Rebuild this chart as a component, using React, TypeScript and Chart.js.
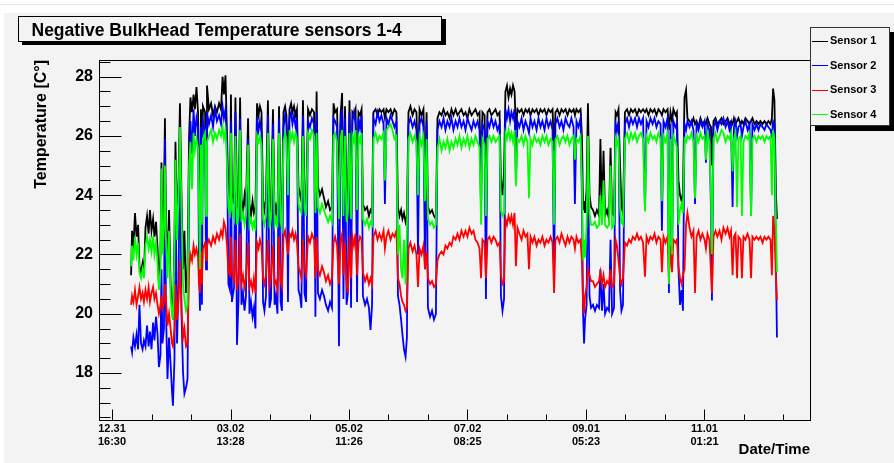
import { useEffect, useRef } from "react";
import { Chart, registerables } from "chart.js";

Chart.register(...registerables);

// Time in days since 12.31 16:30
const times = [
  9.8, 10.3, 11.0, 11.8, 12.6, 13.4, 14.1, 14.9, 15.7, 16.4, 17.2, 18.0, 18.8, 19.5, 20.3, 21.1, 21.8, 22.6, 23.4,
  24.1, 24.9, 25.4, 25.9, 26.7, 27.2, 27.7, 28.5, 29.3, 30.1, 30.8, 31.3, 32.1, 32.6, 33.4, 34.2, 34.9, 35.7, 36.5, 37.2, 38.0, 38.8, 39.6, 40.3, 41.1, 41.9, 42.6, 43.4, 44.2, 44.7, 45.2, 45.7,
  46.2, 46.7, 47.8, 48.3, 48.8, 49.8, 50.9, 51.9, 52.9, 53.9, 55.0, 56.0, 56.8, 57.5, 58.3, 59.1, 59.8,
  60.6, 61.1, 61.6, 62.7, 63.4, 64.2, 65.0, 65.8, 66.5, 67.3, 68.1, 68.8, 69.9, 70.6, 71.4, 72.2, 72.9, 73.7, 74.5, 75.3, 76.0, 76.8, 77.6,
  78.3, 79.1, 80.1, 80.9, 81.7, 82.7, 83.5, 84.2, 85.0, 85.8, 86.6, 87.3, 88.1, 88.9, 89.6, 90.4, 91.2, 92.0, 92.7, 93.5, 94.3, 95.0,
  95.8, 96.6, 97.3, 98.1, 98.9, 99.7, 100.7, 101.7, 102.7, 103.8, 104.5, 105.1, 105.8, 106.8, 107.9, 108.9, 109.9, 111.0, 112.0, 113.0, 113.8, 114.6, 115.6, 116.6, 117.4, 118.2, 118.9,
  119.7, 120.5, 121.2, 122.0, 122.8, 123.5, 124.3, 125.1, 125.9, 126.6, 127.4, 128.2, 128.9, 130.0, 131.0, 132.0, 132.8, 133.6,
  134.3, 135.4, 136.4, 137.4, 138.4, 139.5, 140.2, 141.0, 142.0, 143.1, 144.1, 145.1, 146.1,
  146.9, 147.7, 148.5, 149.2, 150.0, 150.8, 151.5, 152.3, 153.3,
  154.4, 155.4, 156.4, 157.2, 158.0, 159.0, 160.0, 160.8, 161.6,
  162.3, 163.4, 164.4, 165.4, 166.4,
  167.2, 168.2, 169.3, 170.3, 171.3, 172.3, 173.4, 174.4, 175.4, 176.5, 177.5, 178.5, 179.5, 180.6, 181.6, 182.6, 183.6, 184.7, 185.7, 186.7, 187.8, 188.8,
  189.6, 190.3, 191.4, 192.1, 192.9, 193.9, 194.9, 196.0, 197.0, 198.0, 199.1,
  199.8, 200.6, 201.4,
  202.1, 202.9, 203.7, 204.5, 205.2, 206.0, 206.8, 207.5, 208.3,
  209.3, 210.4, 211.4, 212.4, 213.4, 214.2, 215.0, 216.0, 217.0, 218.1, 219.1, 220.1, 221.1, 222.2, 223.2, 224.2, 225.3, 226.3, 227.1, 227.8,
  228.8, 229.9, 230.9, 231.9, 233.0, 234.0, 235.0, 236.0, 237.1, 237.8, 238.6, 239.6, 240.7,
  241.4, 242.0, 242.5, 243.0, 243.8, 244.5, 245.3, 246.1,
  247.1, 248.1, 249.1, 250.2, 250.9, 251.7, 252.5, 253.3, 254.3, 255.3, 256.1, 256.9, 257.9,
  258.7, 259.4, 260.2, 261.0, 261.7, 262.5,
  263.5, 264.6, 265.6, 266.6, 267.6, 268.7, 269.7, 270.7, 271.7, 272.8, 273.8, 274.6, 275.6, 276.6, 277.7, 278.7, 279.7, 280.7, 281.8, 282.5, 283.3, 284.3, 285.4, 286.1, 286.9, 287.7, 288.4, 289.5, 290.2,
  291.0, 291.8, 292.6, 293.3, 294.1, 294.9, 295.6,
  296.7, 297.7, 298.7, 299.5, 300.3, 301.3, 302.3, 303.3, 304.4, 305.1, 305.9, 306.9, 307.7, 308.2, 309.0, 310.0, 311.0, 312.1, 313.1, 314.1, 315.2, 316.2, 317.2, 318.0, 318.8, 319.5, 320.3, 321.1, 321.8, 322.9, 323.6, 324.4, 325.4, 326.5, 327.5, 328.3, 329.0, 330.1, 331.1, 332.1, 333.1, 334.2, 335.2, 336.2, 337.2, 338.3, 339.0, 339.6, 340.3, 341.1, 341.6,
];

const sensor1 = [
  21.3, 22.8, 22.2, 23.4, 22.6, 23.0, 21.6, 21.4, 21.7, 21.3, 22.9, 23.3, 22.7, 23.5, 22.8, 23.2, 22.6, 23.1, 22.2,
  21.0, 22.0, 25.1, 22.5, 24.0, 26.6, 23.0, 21.8, 23.5, 21.0, 20.2, 19.8, 22.5, 25.8, 23.0, 24.5, 27.1, 24.0, 21.5, 22.8, 20.7, 21.5, 26.0, 27.3, 26.8, 27.4, 26.9, 27.65, 26.8, 24.5, 22.5, 26.9,
  24.0, 27.0, 26.8, 24.0, 27.7, 26.9, 27.1, 26.7, 27.0, 26.8, 27.1, 26.9, 28.0, 27.4, 28.05, 26.0, 24.0,
  23.9, 27.4, 24.1, 23.7, 27.3, 23.8, 23.5, 27.3, 23.9, 23.4, 24.0, 23.6, 26.6, 23.7, 23.3, 23.8, 23.4, 23.6, 27.1, 26.7, 27.0, 26.8, 23.8,
  23.5, 23.9, 27.2, 23.4, 23.7, 26.9, 23.3, 23.6, 23.2, 27.0, 23.5, 23.3, 26.8, 27.0, 26.7, 25.0, 26.9, 27.1, 26.8, 27.0, 26.7, 26.9,
  24.3, 24.0, 23.8, 27.2, 23.9, 23.6, 26.9, 26.7, 26.9, 26.8, 24.0, 27.5, 24.3, 24.0, 24.2, 23.9, 23.6, 23.8, 23.5, 23.6, 27.1, 26.8, 26.9, 24.0, 26.7, 27.45, 23.8,
  27.0, 23.6, 23.9, 27.2, 23.7, 26.8, 26.7, 26.9, 24.0, 26.8, 26.7, 26.9, 23.7, 23.5, 23.6, 23.3, 23.5, 23.4,
  26.8, 26.9, 26.7, 26.9, 26.8, 26.9, 26.6, 26.9, 26.8, 26.9, 26.7, 26.9, 26.8,
  23.6, 23.3, 23.5, 23.2, 23.4, 23.1, 23.3, 26.8, 27.0,
  26.7, 26.9, 26.8, 25.0, 26.9, 26.7, 26.9, 24.5, 26.8,
  23.6, 23.4, 23.5, 23.3, 23.2,
  26.6, 26.8, 26.7, 26.9, 26.7, 26.8, 26.6, 26.9, 26.7, 26.9, 26.7, 26.8, 26.9, 26.7, 26.8, 26.6, 26.9, 26.7, 26.8, 26.9, 26.7, 26.8,
  24.5, 26.8, 26.7, 24.0, 26.8, 26.9, 26.7, 26.8, 26.9, 26.7, 26.8,
  24.5, 24.0, 24.8,
  27.5, 27.7, 27.3, 27.6, 27.4, 27.7, 27.5, 26.2, 26.9,
  26.8, 26.9, 26.7, 26.9, 26.8, 26.9, 26.7, 26.9, 26.8, 26.9, 26.7, 26.9, 26.8, 26.9, 26.7, 26.9, 26.8, 26.9, 25.5, 26.8,
  26.9, 26.7, 26.9, 26.8, 26.9, 26.7, 26.9, 26.8, 26.9, 26.7, 26.9, 26.8, 26.9,
  26.0, 23.5, 23.8, 23.4, 24.2, 27.1, 24.0, 23.6,
  23.5, 23.3, 23.5, 23.3, 25.9, 23.4, 25.5, 23.3, 23.5, 23.2, 25.6, 23.4, 23.3,
  26.8, 26.7, 26.9, 25.0, 23.6, 23.4,
  26.8, 26.9, 26.7, 26.9, 26.8, 26.9, 26.7, 26.9, 26.8, 26.9, 26.8, 26.9, 26.7, 26.9, 26.8, 26.9, 26.7, 26.9, 26.8, 26.7, 26.9, 26.8, 26.9, 26.2, 26.8, 26.5, 26.9, 26.7, 26.8,
  24.5, 24.0, 23.8, 24.1, 27.3, 27.55, 26.6,
  26.5, 26.4, 26.6, 26.4, 26.5, 26.3, 26.6, 26.4, 26.5, 26.4, 26.6, 26.4, 26.3, 25.0, 26.5, 26.6, 26.4, 26.5, 26.6, 26.4, 26.5, 26.6, 26.4, 26.5, 26.4, 26.6, 26.4, 26.5, 26.6, 26.4, 26.5, 26.4, 26.6, 26.5, 26.4, 26.5, 26.6, 26.4, 26.5, 26.4, 26.5, 26.4, 26.5, 26.4, 26.5, 26.4, 26.6, 27.6, 27.2, 24.0, 23.2,
];

const sensor2 = [
  18.9, 18.7, 19.2, 18.9, 19.3, 18.8, 20.3, 19.0, 18.8, 19.1, 18.9, 19.6, 18.9, 19.4, 18.8, 19.7, 19.1, 19.9, 19.3,
  18.2, 18.6, 21.5, 19.0, 19.5, 25.9, 20.2, 17.8, 19.2, 18.3, 17.4, 16.9, 18.5, 24.5, 19.0, 21.0, 26.2, 20.0, 18.0, 17.3, 17.5, 17.8, 24.0, 26.5, 25.4, 26.9, 26.0, 26.6, 26.3, 21.5, 20.1, 26.3,
  20.3, 26.5, 26.2, 21.5, 26.8, 26.4, 26.7, 26.3, 26.9, 26.5, 26.7, 26.4, 27.0, 26.6, 26.9, 25.5, 21.0,
  20.8, 26.5, 20.4, 20.9, 26.8, 18.95, 20.5, 26.6, 20.3, 20.7, 20.1, 20.6, 25.9, 20.0, 20.4, 19.9, 20.2, 19.5, 26.6, 26.2, 26.5, 26.1, 20.4,
  20.1, 20.6, 26.7, 20.2, 20.5, 26.4, 20.3, 20.6, 20.0, 26.6, 20.4, 20.1, 26.3, 26.7, 26.4, 20.4, 26.6, 26.8, 26.4, 26.7, 26.3, 26.6,
  20.8, 20.6, 20.2, 26.7, 20.7, 20.4, 26.5, 26.3, 26.6, 26.4, 19.9, 26.8, 20.7, 20.5, 20.8, 20.6, 20.3, 20.1, 20.4, 20.2, 26.6, 26.5, 26.3, 18.9, 26.4, 26.9, 20.5,
  26.6, 20.3, 20.7, 26.8, 20.2, 26.5, 26.8, 26.4, 20.4, 26.6, 26.3, 26.7, 20.6, 20.3, 20.5, 20.2, 19.45, 20.3,
  26.6, 26.4, 26.8, 26.5, 26.7, 26.4, 23.7, 26.6, 26.4, 26.7, 26.5, 26.3, 26.5,
  20.6, 20.3, 19.8, 19.3, 18.8, 18.55, 19.2, 26.4, 26.6,
  26.3, 26.5, 26.2, 22.0, 26.4, 26.6, 26.3, 21.5, 26.5,
  20.2, 19.9, 20.1, 19.8, 20.0,
  26.2, 26.5, 26.3, 26.6, 26.2, 26.5, 26.3, 26.6, 26.2, 26.5, 26.3, 26.6, 26.3, 26.5, 26.2, 26.6, 26.4, 26.2, 26.5, 26.3, 26.5, 26.2,
  23.5, 26.4, 26.2, 20.5, 26.5, 26.3, 26.6, 26.3, 26.5, 26.2, 26.4,
  20.6, 20.1, 20.5,
  26.9, 26.6, 26.9, 26.5, 26.8, 26.6, 26.9, 24.5, 26.5,
  26.3, 26.6, 26.2, 26.5, 26.3, 26.1, 26.6, 26.3, 26.5, 26.2, 26.6, 26.3, 26.5, 26.2, 26.6, 26.3, 26.5, 26.2, 21.0, 26.4,
  26.6, 26.3, 26.5, 26.2, 26.6, 26.4, 26.3, 26.6, 26.3, 23.7, 26.5, 26.3, 26.6,
  24.0, 20.0, 19.0, 19.8, 20.3, 25.5, 20.6, 20.2,
  20.3, 20.1, 20.3, 20.2, 21.5, 20.1, 21.0, 20.0, 20.2, 20.1, 22.5, 20.0, 20.2,
  26.4, 26.2, 26.5, 20.8, 20.1, 20.3,
  26.4, 26.6, 26.3, 26.6, 26.4, 26.6, 26.3, 26.6, 26.4, 26.6, 23.5, 26.5, 26.3, 26.6, 26.4, 26.6, 26.3, 26.5, 26.4, 22.8, 26.5, 26.3, 26.6, 20.7, 26.4, 21.5, 26.5, 26.3, 26.4,
  21.5, 20.3, 20.8, 20.1, 26.4, 26.2, 26.5,
  26.3, 26.5, 26.2, 23.7, 26.4, 26.2, 26.5, 26.3, 26.5, 25.1, 26.4, 26.2, 23.5, 20.45, 26.3, 26.5, 26.2, 26.5, 26.4, 26.6, 26.3, 26.5, 26.2, 26.4, 23.6, 26.3, 26.5, 26.0, 26.3, 26.4, 26.0, 26.3, 26.5, 26.2, 26.4, 23.3, 26.4, 26.2, 26.4, 26.2, 26.4, 26.3, 26.2, 26.4, 26.3, 26.2, 26.0, 26.5, 26.4, 21.5, 19.2,
];

const sensor3 = [
  20.3, 20.6, 20.4, 20.8, 20.3, 20.6, 20.9, 20.5, 20.7, 20.4, 20.8, 20.5, 20.9, 20.4, 20.7, 20.9, 20.5, 20.7, 20.3,
  20.0, 20.3, 20.6, 20.2, 20.4, 21.0, 20.5, 19.6, 20.0, 19.5, 19.0, 18.9, 19.5, 21.0, 19.8, 20.5, 21.8, 20.2, 19.2, 19.5, 18.9, 19.0, 21.5, 22.0, 21.8, 22.3, 22.0, 22.2, 21.9, 21.0, 20.7, 22.1,
  21.0, 22.2, 22.4, 21.8, 22.3, 22.5, 22.3, 22.6, 22.4, 22.7, 22.5, 22.8, 22.6, 23.1, 22.9, 22.3, 21.4,
  21.3, 22.6, 21.4, 21.1, 22.5, 20.8, 21.2, 22.7, 21.0, 21.3, 20.9, 21.2, 22.4, 20.9, 21.1, 20.8, 21.2, 20.7, 22.4, 22.2, 22.5, 22.3, 21.2,
  21.0, 21.3, 22.5, 20.9, 21.2, 22.3, 21.0, 21.1, 20.8, 22.6, 21.1, 20.9, 22.6, 22.8, 22.5, 22.0, 22.7, 22.6, 22.8, 22.5, 22.7, 22.4,
  21.6, 21.4, 21.2, 22.5, 21.5, 21.3, 22.6, 22.4, 22.7, 22.5, 21.2, 22.6, 21.5, 21.3, 21.6, 21.4, 21.1, 21.3, 21.0, 21.2, 22.4, 22.6, 22.3, 21.0, 22.5, 22.7, 21.3,
  22.4, 21.0, 20.7, 22.6, 21.2, 22.6, 22.3, 22.7, 21.3, 22.4, 22.6, 22.5, 21.4, 21.1, 21.3, 21.0, 21.2, 21.0,
  22.6, 22.8, 22.5, 22.7, 22.5, 22.8, 22.2, 22.6, 22.8, 22.5, 22.7, 22.6, 22.8,
  21.2, 21.0, 20.6, 20.4, 20.3, 20.1, 20.2, 22.2, 22.4,
  22.1, 22.3, 22.0, 20.9, 22.2, 22.0, 22.3, 21.5, 22.1,
  21.2, 21.0, 21.1, 20.9, 21.0,
  21.8, 22.0, 22.1, 22.0, 22.3, 22.2, 22.4, 22.3, 22.6, 22.5, 22.7, 22.5, 22.8, 22.6, 22.8, 22.6, 22.9, 22.7, 22.8, 22.5, 22.4, 22.2,
  21.2, 22.5, 22.4, 21.2, 22.5, 22.6, 22.4, 22.6, 22.5, 22.3, 22.4,
  21.3, 21.0, 21.1,
  23.2, 23.0, 23.3, 23.1, 23.3, 23.0, 23.4, 21.6, 22.9,
  22.7, 22.5, 22.8, 22.6, 22.7, 21.5, 22.6, 22.4, 22.6, 22.3, 22.5, 22.4, 22.6, 22.3, 22.5, 22.4, 22.6, 22.4, 20.7, 22.5,
  22.6, 22.4, 22.7, 22.5, 22.3, 22.6, 22.4, 22.6, 22.5, 22.2, 22.6, 22.4, 22.5,
  21.8, 20.3, 20.0, 20.6, 20.9, 21.5, 21.3, 21.1,
  21.1, 20.9, 21.0, 21.1, 21.4, 21.0, 21.3, 20.9, 21.1, 21.0, 21.5, 20.9, 21.0,
  22.5, 22.3, 21.8, 21.2, 21.0, 21.2,
  22.4, 22.3, 22.5, 22.4, 22.6, 22.5, 22.7, 22.5, 22.6, 22.4, 21.25, 22.6, 22.4, 22.6, 22.5, 22.7, 22.4, 22.6, 22.5, 21.4, 22.6, 22.4, 22.6, 21.2, 22.3, 21.4, 22.5, 22.4, 22.5,
  21.6, 21.2, 21.0, 21.3, 21.5, 23.0, 23.4,
  22.9, 22.6, 22.8, 20.7, 22.6, 22.8, 22.5, 22.7, 22.5, 22.2, 22.7, 22.5, 21.4, 20.7, 22.6, 22.8, 22.6, 22.8, 22.5, 22.9, 22.7, 22.9, 22.6, 22.8, 21.3, 22.6, 22.7, 21.2, 22.6, 22.5, 21.2, 22.6, 22.5, 22.7, 22.5, 21.2, 22.6, 22.5, 22.6, 22.5, 22.6, 22.4, 22.6, 22.5, 22.6, 22.5, 21.3, 23.3, 22.8, 21.2, 20.45,
];

const sensor4 = [
  21.6, 22.3, 21.8, 22.6, 22.0, 22.4, 21.4, 21.2, 21.5, 21.2, 22.3, 22.6, 22.2, 22.5, 22.1, 22.6, 22.0, 22.4, 21.7,
  20.8, 21.5, 24.9, 22.0, 23.0, 25.0, 22.5, 21.2, 22.8, 20.6, 20.0, 19.8, 22.0, 25.2, 22.5, 24.0, 26.3, 23.5, 21.0, 20.5, 20.1, 20.3, 25.0, 25.8, 24.2, 26.1, 25.5, 25.9, 25.6, 23.5, 21.5, 25.7,
  23.0, 25.9, 26.1, 23.3, 25.8, 26.0, 26.2, 25.8, 26.1, 25.9, 26.2, 26.0, 26.3, 25.9, 26.2, 25.0, 23.6,
  23.4, 26.1, 23.5, 23.2, 26.0, 23.0, 23.3, 26.2, 23.1, 23.4, 23.0, 23.3, 25.7, 23.0, 23.2, 22.9, 23.1, 22.8, 26.0, 25.8, 26.0, 25.7, 23.2,
  23.0, 23.3, 26.1, 22.9, 23.2, 25.9, 23.0, 23.2, 22.9, 26.1, 23.1, 22.9, 25.8, 26.1, 25.9, 24.0, 26.2, 25.9, 26.1, 25.8, 26.1, 25.9,
  23.7, 23.5, 23.4, 26.0, 23.6, 23.3, 26.1, 25.9, 26.2, 26.0, 23.4, 26.1, 23.6, 23.4, 23.7, 23.5, 23.3, 23.1, 23.3, 23.1, 26.0, 26.1, 25.8, 23.2, 25.9, 26.2, 23.3,
  26.0, 23.1, 23.4, 26.1, 23.2, 26.0, 25.8, 26.2, 23.5, 26.0, 25.8, 26.1, 23.2, 23.0, 23.2, 22.9, 23.1, 23.0,
  25.9, 26.1, 25.8, 26.0, 25.9, 26.1, 24.5, 26.2, 26.3, 26.4, 26.2, 25.9, 26.0,
  22.0, 23.0, 21.5, 21.2, 22.5, 21.0, 22.8, 25.9, 26.1,
  25.8, 26.0, 25.8, 24.0, 26.0, 25.7, 26.0, 23.8, 25.9,
  23.2, 23.0, 23.1, 22.9, 23.0,
  25.6, 25.9, 25.5, 25.8, 25.6, 25.9, 25.5, 25.8, 25.6, 25.9, 25.7, 26.0, 25.6, 25.9, 25.7, 26.0, 25.6, 25.9, 25.7, 26.0, 25.8, 25.6,
  23.0, 25.9, 25.7, 23.3, 25.9, 26.0, 25.8, 26.0, 25.8, 25.9, 26.0,
  23.5, 23.3, 23.4,
  26.1, 25.9, 26.2, 25.9, 26.1, 25.8, 26.2, 24.3, 25.9,
  25.8, 26.0, 25.7, 26.0, 25.8, 23.9, 25.9, 25.7, 26.0, 25.8, 25.9, 25.7, 26.0, 25.8, 26.0, 25.7, 25.9, 25.8, 23.0, 25.9,
  26.0, 25.7, 25.9, 26.0, 25.8, 26.0, 25.7, 25.9, 26.0, 25.2, 25.9, 25.8, 26.0,
  24.5, 21.8, 22.5, 21.9, 23.0, 26.0, 23.4, 23.0,
  23.0, 23.1, 22.9, 23.0, 24.0, 23.0, 24.5, 23.0, 22.9, 23.0, 25.0, 22.9, 23.0,
  25.9, 25.7, 25.9, 23.5, 23.1, 23.0,
  25.9, 26.1, 25.8, 26.1, 25.9, 26.1, 25.8, 26.0, 26.1, 25.9, 23.45, 26.0, 25.8, 26.1, 25.9, 26.0, 25.8, 26.1, 25.9, 23.8, 26.0, 25.8, 26.1, 21.0, 25.9, 22.0, 26.0, 25.8, 25.6,
  23.0, 23.5, 23.7, 23.4, 25.9, 25.8, 26.0,
  25.9, 26.1, 25.8, 23.9, 26.0, 25.8, 26.1, 25.9, 26.0, 25.2, 26.1, 25.8, 24.0, 22.0, 25.9, 26.1, 25.8, 26.0, 26.2, 26.1, 25.8, 26.0, 25.9, 26.1, 24.8, 25.9, 26.1, 23.6, 25.9, 26.0, 23.3, 25.8, 26.0, 25.9, 26.1, 23.3, 25.9, 26.0, 25.8, 26.0, 25.9, 26.0, 25.8, 26.0, 25.9, 26.0, 24.0, 26.2, 25.9, 23.0, 21.4,
];

const seriesNames = ["Sensor 1", "Sensor 2", "Sensor 3", "Sensor 4"];
const seriesColors = ["#000000", "#0000ff", "#ff0000", "#00ff00"];

const xTickDays = [0, 60.874, 121.748, 182.622, 243.496, 304.37];
const xTickLabels = [
  ["12.31", "16:30"],
  ["03.02", "13:28"],
  ["05.02", "11:26"],
  ["07.02", "08:25"],
  ["09.01", "05:23"],
  ["11.01", "01:21"],
];
const yTickValues = [18, 20, 22, 24, 26, 28];

const titleText = "Negative BulkHead Temperature sensors 1-4";
const FONT = "'Liberation Sans', Arial, Helvetica, sans-serif";
const CANVAS_BG = "#f3f3f3";
const X_STEP = 60.874;

const rootDecor = {
  id: "rootDecor",
  beforeDraw(chart: any) {
    const { ctx, width, height } = chart;
    ctx.save();
    ctx.fillStyle = "#ffffff";
    ctx.fillRect(0, 0, width, height);
    ctx.fillStyle = CANVAS_BG;
    ctx.fillRect(4, 13, width - 4, height - 13);
    ctx.strokeStyle = "#e4e4e4";
    ctx.lineWidth = 1;
    ctx.beginPath();
    ctx.moveTo(0, 4.5);
    ctx.lineTo(width, 4.5);
    ctx.stroke();
    ctx.restore();
  },
  afterDraw(chart: any) {
    const { ctx, chartArea: a, scales } = chart;
    const xs = scales.x;
    const ys = scales.y;
    const L = Math.round(a.left) + 0.5;
    const R = Math.round(a.right) + 0.5;
    const T = Math.round(a.top) + 0.5;
    const B = Math.round(a.bottom) + 0.5;
    ctx.save();
    ctx.strokeStyle = "#000000";
    ctx.lineWidth = 1;
    ctx.strokeRect(L, T, R - L, B - T);

    // y ticks (inside frame)
    ctx.beginPath();
    for (let k = 33; k <= 57; k++) {
      const v = k / 2;
      if (v < ys.min || v > ys.max) continue;
      const py = Math.round(ys.getPixelForValue(v)) + 0.5;
      const major = k % 4 === 0;
      ctx.moveTo(L, py);
      ctx.lineTo(L + (major ? 22 : 11), py);
    }
    // x ticks (inside frame)
    xTickDays.forEach((d) => {
      for (let k = 0; k < 3; k++) {
        const v = d + (k * X_STEP) / 3;
        if (v < xs.min || v > xs.max) continue;
        const px = Math.round(xs.getPixelForValue(v)) + 0.5;
        ctx.moveTo(px, B);
        ctx.lineTo(px, B - (k === 0 ? 11 : 6));
      }
    });
    ctx.stroke();

    // title box
    ctx.fillStyle = "#000000";
    ctx.fillRect(22, 19, 424, 26);
    ctx.fillStyle = CANVAS_BG;
    ctx.fillRect(18, 16, 424, 26);
    ctx.strokeStyle = "#000000";
    ctx.strokeRect(18.5, 16.5, 423, 25);
    ctx.fillStyle = "#000000";
    ctx.font = `bold 17.5px ${FONT}`;
    ctx.textBaseline = "alphabetic";
    ctx.textAlign = "left";
    ctx.fillText(titleText, 31.5, 35.5);

    // legend box
    ctx.fillStyle = "#000000";
    ctx.fillRect(815, 32, 80, 99);
    ctx.fillStyle = CANVAS_BG;
    ctx.fillRect(810, 27, 80, 99);
    ctx.strokeStyle = "#333333";
    ctx.strokeRect(810.5, 27.5, 79, 98);
    ctx.font = `bold 11px ${FONT}`;
    chart.data.datasets.forEach((ds: any, i: number) => {
      const ly = Math.round(40.5 + 24.5 * i) + 0.5;
      ctx.strokeStyle = ds.borderColor;
      ctx.lineWidth = 1;
      ctx.beginPath();
      ctx.moveTo(812, ly);
      ctx.lineTo(828, ly);
      ctx.stroke();
      ctx.fillStyle = "#000000";
      ctx.fillText(ds.label, 830, 44 + 24.5 * i);
    });
    ctx.restore();
  },
};

export default function App() {
  const ref = useRef<HTMLCanvasElement>(null);
  useEffect(() => {
    const series = [sensor1, sensor2, sensor3, sensor4];
    const chart = new Chart(ref.current as HTMLCanvasElement, {
      type: "line",
      data: {
        datasets: series.map((vals, i) => ({
          label: seriesNames[i],
          data: vals.map((y, k) => ({ x: times[k], y })),
          borderColor: seriesColors[i],
          backgroundColor: seriesColors[i],
          borderWidth: 1.8,
          pointRadius: 0,
          tension: 0,
          fill: false,
          order: 4 - i,
        })),
      },
      options: {
        animation: false,
        responsive: false,
        devicePixelRatio: 1,
        events: [],
        layout: { padding: { top: 60, right: 84, bottom: 0, left: 0 } },
        plugins: {
          legend: { display: false },
          title: { display: false },
          tooltip: { enabled: false },
        },
        scales: {
          x: {
            type: "linear",
            min: -6.68,
            max: 358.57,
            afterBuildTicks: (s: any) => {
              s.ticks = xTickDays.map((v) => ({ value: v }));
            },
            afterFit: (s: any) => {
              s.height = 43;
            },
            grid: { display: false, drawTicks: false },
            border: { display: false },
            ticks: {
              autoSkip: false,
              maxRotation: 0,
              padding: 2,
              color: "#000000",
              font: { family: FONT, size: 11, weight: "bold", lineHeight: 1.23 },
              callback: (_v: any, i: number) => xTickLabels[i],
            },
            title: {
              display: true,
              text: "Date/Time",
              align: "end",
              color: "#000000",
              font: { family: FONT, size: 15, weight: "bold" },
              padding: { top: 0, bottom: 4 },
            },
          },
          y: {
            type: "linear",
            min: 16.414,
            max: 28.563,
            afterBuildTicks: (s: any) => {
              s.ticks = yTickValues.map((v) => ({ value: v }));
            },
            afterFit: (s: any) => {
              s.width = 99;
            },
            grid: { display: false, drawTicks: false },
            border: { display: false },
            ticks: {
              padding: 6,
              color: "#000000",
              font: { family: FONT, size: 16, weight: "bold" },
              callback: (v: any) => String(v),
            },
            title: {
              display: true,
              text: "Temperature [C°]",
              align: "end",
              color: "#000000",
              font: { family: FONT, size: 16, weight: "bold" },
              padding: { top: 32, bottom: 0 },
            },
          },
        },
      } as any,
      plugins: [rootDecor],
    });
    return () => chart.destroy();
  }, []);
  return (
    <div style={{ position: "fixed", left: 0, top: 0, width: 894, height: 463 }}>
      <canvas ref={ref} width={894} height={463} style={{ display: "block", width: 894, height: 463 }} />
    </div>
  );
}
